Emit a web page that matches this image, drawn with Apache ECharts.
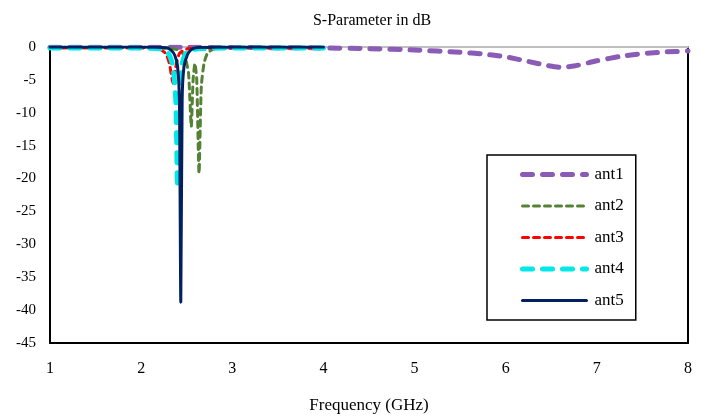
<!DOCTYPE html>
<html><head><meta charset="utf-8">
<script src="https://cdn.jsdelivr.net/npm/echarts@6/dist/echarts.min.js"></script>
<style>html,body{margin:0;padding:0;background:#fff}#c{width:704px;height:417px}</style>
</head><body><div id="c"></div>
<script>
const seriesNames = ['ant1','ant2','ant3','ant4','ant5'];
const xTicks = [1,2,3,4,5,6,7,8];
const yTicks = [0,-5,-10,-15,-20,-25,-30,-35,-40,-45];
const ant1 = [[1,-0.05],[1.5,-0.05],[2,-0.05],[2.5,-0.05],[3,-0.08],[3.5,-0.1],[4,-0.15],[4.5,-0.25],[5,-0.45],[5.5,-0.8],[5.75,-1.05],[6,-1.5],[6.25,-2.2],[6.45,-2.8],[6.6,-3.1],[6.75,-2.9],[7,-2.1],[7.25,-1.45],[7.5,-1.0],[7.75,-0.75],[8,-0.6]];
const ant2 = [[1,-0.1],[2,-0.1],[2.3,-0.2],[2.42,-0.5],[2.48,-1.5],[2.52,-4],[2.55,-12.1],[2.57,-5],[2.59,-2.5],[2.61,-5],[2.635,-19.2],[2.66,-6],[2.69,-2.5],[2.73,-0.9],[2.8,-0.3],[3,-0.1],[4,-0.1]];
const ant3 = [[1,-0.1],[2,-0.1],[2.2,-0.3],[2.27,-1],[2.31,-2.5],[2.35,-5.5],[2.38,-3],[2.42,-1],[2.5,-0.3],[2.7,-0.1],[4,-0.1]];
const ant4 = [[1,-0.15],[2,-0.15],[2.22,-0.3],[2.3,-1],[2.35,-3],[2.38,-8],[2.40,-21.4],[2.42,-8],[2.45,-2.5],[2.5,-0.8],[2.6,-0.3],[3,-0.15],[4,-0.15]];
const ant5 = [[1,0],[2,0],[2.28,-0.1],[2.33,-0.5],[2.37,-1.3],[2.4,-3],[2.42,-8],[2.435,-38.8],[2.45,-8],[2.47,-3],[2.51,-1.1],[2.55,-0.4],[2.6,-0.1],[3,0],[4,0]];
const datas = [ant1, ant2, ant3, ant4, ant5];
const colors = ['#8b5cb5','#548235','#ff0000','#00e8e8','#002060'];
const widths = [5,3,3,5,3];
const dashes = [[10,10],[6,5],[6,5],[10,10],'solid'];
const chart = echarts.init(document.getElementById('c'));
const font = '"Liberation Serif", "Times New Roman", serif';
chart.setOption({
  animation:false,
  textStyle:{fontFamily:font},
  title:{text:'S-Parameter in dB',left:367,top:8,textAlign:'center',textStyle:{fontFamily:font,fontSize:16,fontWeight:'normal',color:'#000'}},
  grid:{left:50,right:16,top:47,bottom:74,show:false,containLabel:false,outerBoundsMode:'none'},
  xAxis:[{type:'value',min:1,max:8,interval:1,position:'bottom',
    axisLine:{show:true,onZero:false,lineStyle:{color:'#000',width:2}},
    axisTick:{show:false},splitLine:{show:false},
    axisLabel:{color:'#000',fontSize:16,fontFamily:font,margin:18,formatter:v=>xTicks.includes(v)?String(v):''},
    name:'Frequency (GHz)',nameLocation:'middle',nameGap:54,nameTextStyle:{color:'#000',fontSize:17,fontFamily:font}},
    {type:'value',min:1,max:8,position:'top',axisLine:{show:true,onZero:false,lineStyle:{color:'#bfbfbf',width:2}},axisTick:{show:false},axisLabel:{show:false},splitLine:{show:false}}],
  yAxis:[{type:'value',min:-45,max:0,interval:5,
    axisLine:{show:true,onZero:false,lineStyle:{color:'#000',width:2}},
    axisTick:{show:false},splitLine:{show:false},
    axisLabel:{color:'#000',fontSize:15,fontFamily:font,margin:14,formatter:v=>yTicks.includes(v)?String(v):''}},
    {type:'value',min:-45,max:0,position:'right',axisLine:{show:true,onZero:false,lineStyle:{color:'#000',width:2}},axisTick:{show:false},axisLabel:{show:false},splitLine:{show:false}}],
  legend:{orient:'vertical',left:487,top:155,padding:[11,12,11,33],itemWidth:64,itemHeight:16,itemGap:14.5,
    borderColor:'#000',borderWidth:1.5,backgroundColor:'#fff',
    itemStyle:{opacity:0},
    textStyle:{fontFamily:font,fontSize:17,color:'#000',padding:[0,0,0,3]},
    data:seriesNames.map((n,i)=>({name:n,itemStyle:{opacity:0},lineStyle:{color:colors[i],width:widths[i],type:dashes[i],cap:'round'}}))},
  series: seriesNames.map((n,i)=>({name:n,type:'line',data:datas[i],showSymbol:false,symbol:'none',smooth:0.2,
    color:colors[i],lineStyle:{color:colors[i],width:widths[i],type:dashes[i],cap:'round'},z:2+i}))
});
</script></body></html>
